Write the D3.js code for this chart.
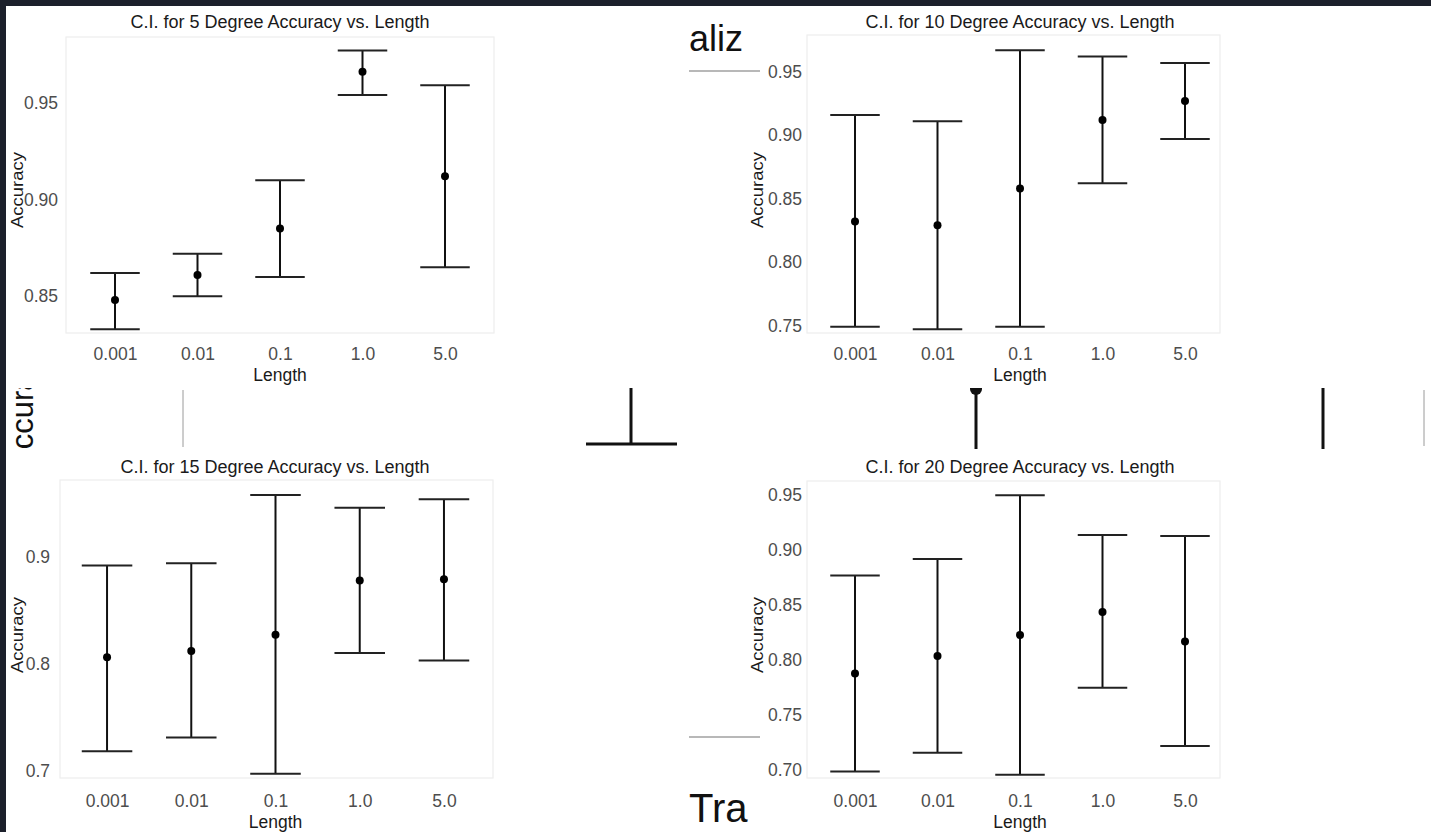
<!DOCTYPE html>
<html>
<head>
<meta charset="utf-8">
<script src="https://cdn.jsdelivr.net/npm/d3@7"></script>
<style>
  body { margin: 0; background: #1c202b; }
  svg { display: block; }
</style>
</head>
<body>
<svg id="chart" width="1431" height="832"></svg>
<script>
// categories on the x axis
var lengths = ["0.001", "0.01", "0.1", "1.0", "5.0"];

// 5 degree
var mean5  = [0.848, 0.861, 0.885, 0.966, 0.912];
var lower5 = [0.833, 0.850, 0.860, 0.954, 0.865];
var upper5 = [0.862, 0.872, 0.910, 0.977, 0.959];
// 10 degree
var mean10  = [0.832, 0.829, 0.858, 0.912, 0.927];
var lower10 = [0.749, 0.747, 0.749, 0.862, 0.897];
var upper10 = [0.916, 0.911, 0.967, 0.962, 0.957];
// 15 degree
var mean15  = [0.806, 0.812, 0.827, 0.878, 0.879];
var lower15 = [0.718, 0.731, 0.697, 0.810, 0.803];
var upper15 = [0.892, 0.894, 0.958, 0.946, 0.954];
// 20 degree
var mean20  = [0.788, 0.804, 0.823, 0.844, 0.817];
var lower20 = [0.699, 0.716, 0.696, 0.775, 0.722];
var upper20 = [0.877, 0.892, 0.950, 0.914, 0.913];

var degrees = [5, 10, 15, 20];
var yTicks5  = [0.85, 0.90, 0.95];
var yTicks10 = [0.75, 0.80, 0.85, 0.90, 0.95];
var yTicks15 = [0.7, 0.8, 0.9];
var yTicks20 = [0.70, 0.75, 0.80, 0.85, 0.90, 0.95];

var svg = d3.select('#chart');

// white page under the dark frame
svg.append('rect')
  .attr('x', 6).attr('y', 6)
  .attr('width', 1425).attr('height', 826)
  .attr('fill', '#ffffff');

// bits of the slide that show between the four plots
function drawBackdrop () {
  var defs = svg.append('defs');
  defs.append('clipPath').attr('id', 'gapClip')
    .append('rect').attr('x', 688).attr('y', 6).attr('width', 73).attr('height', 826);
  defs.append('clipPath').attr('id', 'bandClip')
    .append('rect').attr('x', 6).attr('y', 388).attr('width', 1425).attr('height', 61);

  var gap = svg.append('g').attr('clip-path', 'url(#gapClip)');
  gap.append('text')
    .attr('x', 689).attr('y', 51)
    .attr('font-family', 'Liberation Sans, Arial, sans-serif')
    .attr('font-size', 36)
    .attr('fill', '#111')
    .text('aliz');
  gap.append('line')
    .attr('x1', 689).attr('x2', 760).attr('y1', 71).attr('y2', 71)
    .attr('stroke', '#a0a0a0').attr('stroke-width', 1.5);
  gap.append('line')
    .attr('x1', 689).attr('x2', 760).attr('y1', 737).attr('y2', 737)
    .attr('stroke', '#a0a0a0').attr('stroke-width', 1.5);
  gap.append('text')
    .attr('x', 689).attr('y', 822)
    .attr('font-family', 'Liberation Sans, Arial, sans-serif')
    .attr('font-size', 40)
    .attr('fill', '#111')
    .text('Tra');

  var band = svg.append('g').attr('clip-path', 'url(#bandClip)');
  band.append('text')
    .attr('transform', 'translate(33,470) rotate(-90)')
    .attr('font-family', 'Liberation Sans, Arial, sans-serif')
    .attr('font-size', 31)
    .attr('fill', '#111')
    .text('Accuracy');
  band.append('line').attr('x1', 183).attr('x2', 183).attr('y1', 390).attr('y2', 447)
    .attr('stroke', '#9a9a9a').attr('stroke-width', 1);
  band.append('line').attr('x1', 1424).attr('x2', 1424).attr('y1', 390).attr('y2', 446)
    .attr('stroke', '#9a9a9a').attr('stroke-width', 1);
  band.append('line').attr('x1', 631).attr('x2', 631).attr('y1', 388).attr('y2', 444)
    .attr('stroke', '#111').attr('stroke-width', 3);
  band.append('line').attr('x1', 586).attr('x2', 677).attr('y1', 444).attr('y2', 444)
    .attr('stroke', '#111').attr('stroke-width', 3);
  band.append('line').attr('x1', 976).attr('x2', 976).attr('y1', 390).attr('y2', 450)
    .attr('stroke', '#111').attr('stroke-width', 3);
  band.append('circle').attr('cx', 976).attr('cy', 389).attr('r', 6).attr('fill', '#111');
  band.append('line').attr('x1', 1323).attr('x2', 1323).attr('y1', 388).attr('y2', 450)
    .attr('stroke', '#111').attr('stroke-width', 3);
}

// where each plot sits on the page
var layout = [
  { xr: [65.5, 494.5], box: [66, 37, 494, 333], yr: [333, 37], yd: [0.831, 0.984],
    tickRight: 58, xAxisY: 343, titleX: 280, titleY: 28, accX: 23, accY: 190, lenY: 381 },
  { xr: [805.5, 1234.5], box: [807, 35, 1220, 333], yr: [333, 35], yd: [0.744, 0.979],
    tickRight: 802, xAxisY: 343, titleX: 1020, titleY: 28, accX: 763, accY: 190, lenY: 381 },
  { xr: [56.5, 494.5], box: [60, 480, 493, 778], yr: [778, 480], yd: [0.693, 0.972],
    tickRight: 50, xAxisY: 790, titleX: 275, titleY: 473, accX: 23, accY: 635, lenY: 828 },
  { xr: [805.5, 1234.5], box: [807, 481, 1220, 778], yr: [778, 481], yd: [0.693, 0.963],
    tickRight: 802, xAxisY: 790, titleX: 1020, titleY: 473, accX: 763, accY: 635, lenY: 828 }
];

var means = [mean5, mean10, mean15, mean20];
var lowers = [lower5, lower10, lower15, lower20];
var uppers = [upper5, upper10, upper15, upper20];
var yTicks = [yTicks5, yTicks10, yTicks15, yTicks20];
var fontFam = 'Liberation Sans, Arial, Helvetica, sans-serif';

function drawPanel (i) {
  var L = layout[i];
  var g = svg.append('g');

  var x = d3.scalePoint().domain(lengths).range(L.xr).padding(0.6);
  var y = d3.scaleLinear().domain(L.yd).range(L.yr);

  // faint panel edge
  g.append('rect')
    .attr('x', L.box[0]).attr('y', L.box[1])
    .attr('width', L.box[2] - L.box[0]).attr('height', L.box[3] - L.box[1])
    .attr('fill', 'none').attr('stroke', '#ededed').attr('stroke-width', 1.2);

  var rows = lengths.map(function (d, j) {
    return { len: d, m: means[i][j], lo: lowers[i][j], hi: uppers[i][j] };
  });
  var capW = x.step() * 0.6;

  var bars = g.selectAll('.ci').data(rows).enter().append('g').attr('class', 'ci');
  bars.append('line')
    .attr('x1', function (d) { return x(d.len); })
    .attr('x2', function (d) { return x(d.len); })
    .attr('y1', function (d) { return y(d.lo); })
    .attr('y2', function (d) { return y(d.hi); })
    .attr('stroke', '#111').attr('stroke-width', 2);
  bars.append('line')
    .attr('x1', function (d) { return x(d.len) - capW / 2; })
    .attr('x2', function (d) { return x(d.len) + capW / 2; })
    .attr('y1', function (d) { return y(d.hi); })
    .attr('y2', function (d) { return y(d.hi); })
    .attr('stroke', '#222').attr('stroke-width', 2);
  bars.append('line')
    .attr('x1', function (d) { return x(d.len) - capW / 2; })
    .attr('x2', function (d) { return x(d.len) + capW / 2; })
    .attr('y1', function (d) { return y(d.lo); })
    .attr('y2', function (d) { return y(d.lo); })
    .attr('stroke', '#222').attr('stroke-width', 2);
  bars.append('circle')
    .attr('cx', function (d) { return x(d.len); })
    .attr('cy', function (d) { return y(d.m); })
    .attr('r', 4)
    .attr('fill', '#000');

  // axes
  var fmt = i === 2 ? d3.format('.1f') : d3.format('.2f');
  var yAxis = g.append('g')
    .attr('transform', 'translate(' + (L.tickRight + 3) + ',0)')
    .call(d3.axisLeft(y).tickValues(yTicks[i]).tickFormat(fmt).tickSize(0).tickPadding(3));
  var xAxis = g.append('g')
    .attr('transform', 'translate(0,' + L.xAxisY + ')')
    .call(d3.axisBottom(x).tickSize(0).tickPadding(5));
  [yAxis, xAxis].forEach(function (a) {
    a.select('.domain').remove();
    a.selectAll('text')
      .attr('font-family', fontFam)
      .attr('font-size', 17.5)
      .attr('fill', '#4d4d4d');
  });

  g.append('text')
    .attr('x', L.titleX).attr('y', L.titleY)
    .attr('text-anchor', 'middle')
    .attr('font-family', fontFam)
    .attr('font-size', 18)
    .attr('fill', '#1a1a1a')
    .text('C.I. for ' + degrees[i] + ' Degree Accuracy vs. Length');

  g.append('text')
    .attr('x', (L.xr[0] + L.xr[1]) / 2).attr('y', L.lenY)
    .attr('text-anchor', 'middle')
    .attr('font-family', fontFam)
    .attr('font-size', 17.5)
    .attr('fill', '#1a1a1a')
    .text('Length');

  g.append('text')
    .attr('transform', 'translate(' + L.accX + ',' + L.accY + ') rotate(-90)')
    .attr('text-anchor', 'middle')
    .attr('font-family', fontFam)
    .attr('font-size', 17)
    .attr('fill', '#1a1a1a')
    .attr('textLength', 76)
    .attr('lengthAdjust', 'spacingAndGlyphs')
    .text('Accuracy');
}

drawBackdrop();
degrees.forEach(function (d, i) { drawPanel(i); });
</script>
</body>
</html>
